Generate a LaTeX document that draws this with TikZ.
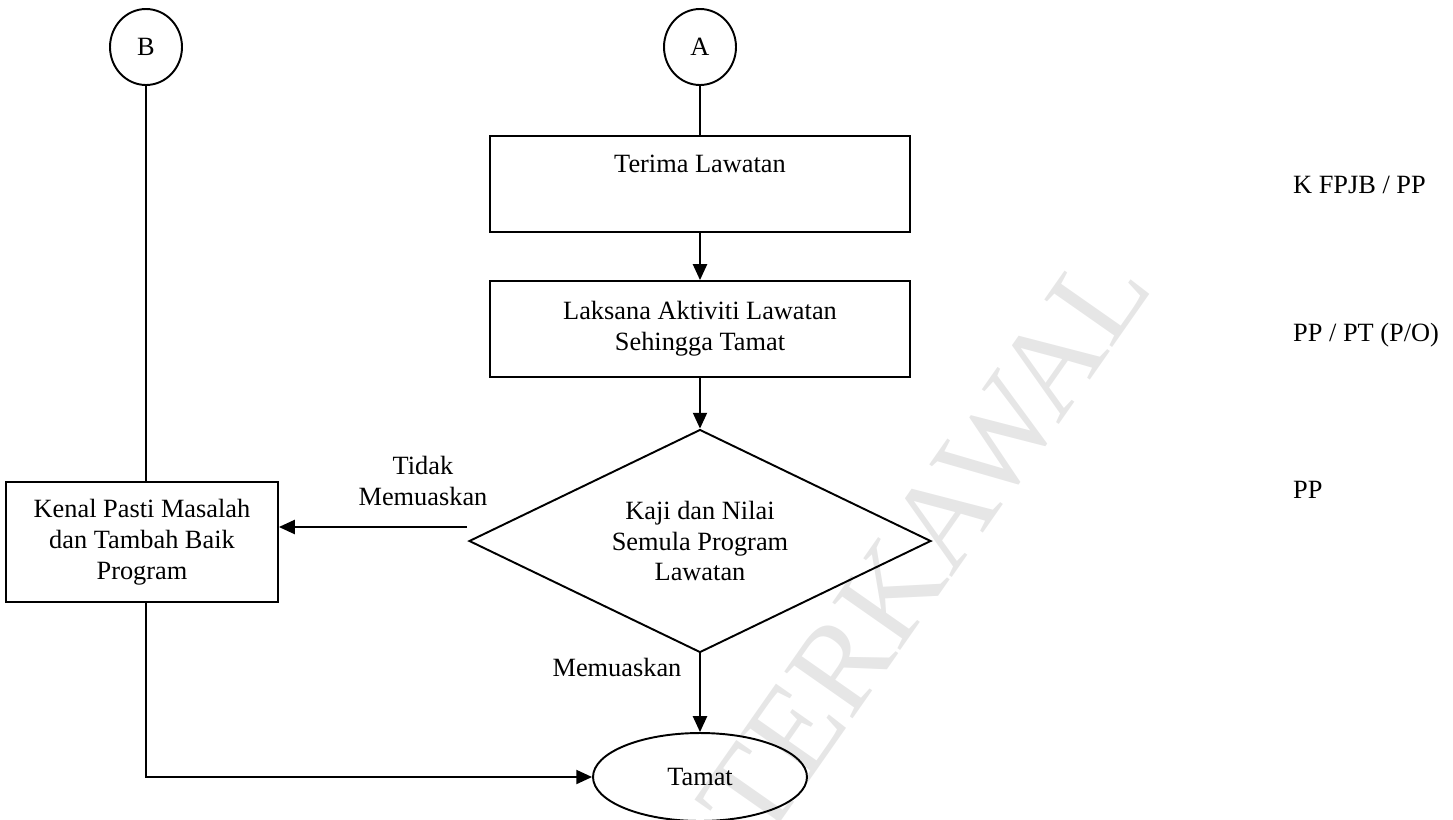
\documentclass[tikz,border=0pt]{standalone}
\usepackage{fontspec}
\setmainfont{Liberation Serif}
\usepackage{xcolor}
\usepackage{tikz}
\usetikzlibrary{shapes.geometric,arrows.meta,positioning,calc}
\definecolor{FCLine} {HTML}{000000}
\definecolor{FCMark} {HTML}{E6E6E6}

\begin{document}
\begin{tikzpicture}[x=0.02cm,y=-0.02cm,
    every node/.style={font=\fontsize{15pt}{17.5pt}\selectfont,align=center},
    conn/.style={draw=FCLine,shape=ellipse,line width=1.1pt,inner sep=0pt,minimum width=1.44cm,minimum height=1.52cm},
    procbox/.style={draw=FCLine,rectangle,line width=1.1pt,inner sep=2pt,minimum width=8.4cm,minimum height=1.92cm},
    decide/.style={draw=FCLine,diamond,aspect=2.07,line width=1.1pt,inner sep=0pt,minimum width=9.24cm,minimum height=4.46cm},
    endpt/.style={draw=FCLine,ellipse,line width=1.1pt,inner sep=0pt,minimum width=4.28cm,minimum height=1.76cm},
    who/.style={anchor=west},
    link/.style={line width=1.1pt,draw=FCLine},
    flow/.style={link,-{Triangle[length=9pt,width=8pt]}}]
    \useasboundingbox (0,0) rectangle (1453,819);
    % watermark
    \node[rotate=55,text=FCMark,font=\fontsize{72pt}{72pt}\selectfont] (mark) at (925,545) {TERKAWAL};
    % connectors A and B
    \node[conn] (A) at (700,47) {A};
    \node[conn] (B) at (146,47) {B};
    % main column
    \node[procbox] (terima) at (700,184) {Terima Lawatan\\ \strut};
    \node[procbox] (laksana) at (700,329) {Laksana Aktiviti Lawatan\\Sehingga Tamat};
    \node[decide] (kaji) at (700,541) {Kaji dan Nilai\\Semula Program\\Lawatan};
    \node[endpt] (tamat) at (700,777) {Tamat};
    \node[procbox,minimum width=5.44cm,minimum height=2.4cm] (kenal) at (142,542) {Kenal Pasti Masalah\\dan Tambah Baik\\Program};
    % labels
    \node (tidak) at (423,481) {Tidak\\Memuaskan};
    \node (puas) at (617,667) {Memuaskan};
    \node[who] (w1) at (1287,185) {K FPJB / PP};
    \node[who] (w2) at (1287,335) {PP / PT (P/O)};
    \node[who] (w3) at (1287,490) {PP};
    % arrows
    \draw[link] (A) -- (terima);
    \draw[flow] (terima) -- (laksana);
    \draw[flow] (laksana) -- (kaji);
    \draw[flow] (kaji) -- (tamat);
    \coordinate (tdk) at (467,527);
    \draw[flow] (tdk) -- (tdk -| kenal.east);
    \draw[link] (B) -- (B |- kenal.north);
    \draw[flow] (kenal.south -| B) |- (tamat.west);
\end{tikzpicture}
\end{document}
